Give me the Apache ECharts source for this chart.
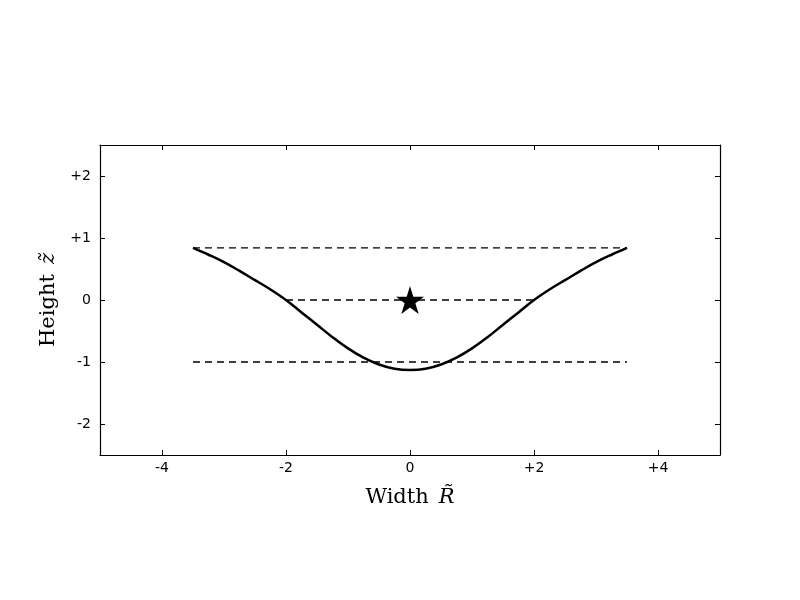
<!DOCTYPE html>
<html><head><meta charset="utf-8">
<script src="https://cdn.jsdelivr.net/npm/echarts@6/dist/echarts.min.js"></script>
<style>html,body{margin:0;padding:0;background:#fff}#c{width:800px;height:600px}</style>
</head><body><div id="c"></div>
<script>
// Data
const curveX = [-3.5,-3.25,-3.0,-2.75,-2.5,-2.25,-2.0,-1.75,-1.5,-1.25,-1.0,-0.75,-0.5,-0.25,0,0.25,0.5,0.75,1.0,1.25,1.5,1.75,2.0,2.25,2.5,2.75,3.0,3.25,3.5];
const curveZ = [0.84,0.73,0.61,0.47,0.32,0.17,0.0,-0.20,-0.40,-0.60,-0.78,-0.93,-1.04,-1.11,-1.13,-1.11,-1.04,-0.93,-0.78,-0.60,-0.40,-0.20,0.0,0.17,0.32,0.47,0.61,0.73,0.84];
const dashTop = [[-3.5,0.84],[3.5,0.84]];
const dashMid = [[-2.0,0.0],[2.0,0.0]];
const dashBot = [[-3.5,-1.0],[3.5,-1.0]];
const starPoint = [[0,0]];
const xTicks = [-4,-2,0,2,4];
const yTicks = [-2,-1,0,1,2];

const fmt = v => v > 0 ? '+' + v : String(v);
const starPath = 'path://M50,0 L61.8,36.2 L100,36.2 L69.1,58.8 L80.9,95.1 L50,72.7 L19.1,95.1 L30.9,58.8 L0,36.2 L38.2,36.2 Z';

const chart = echarts.init(document.getElementById('c'), null, {renderer:'canvas'});
const lab = {color:'#000', fontFamily:'DejaVu Sans', fontSize:14};
const tick = vals => ({show:true, inside:true, length:5, customValues:vals, lineStyle:{color:'#000', width:1}});
const lineAx = {show:true, onZero:false, lineStyle:{color:'#000', width:1.2}};
const nameRich = {rich:{n:{fontFamily:'DejaVu Serif', fontSize:21, color:'#000'}, i:{fontFamily:'DejaVu Serif', fontStyle:'italic', fontSize:21, color:'#000'}}};
const dash = {color:'#000', width:1.3, type:[7,5]};
chart.setOption({
  backgroundColor:'#fff',
  animation:false,
  grid:{left:100, top:145, width:620, height:310},
  xAxis:[{
    type:'value', min:-5, max:5, interval:1, position:'bottom',
    axisLine:lineAx, axisTick:tick(xTicks), splitLine:{show:false},
    axisLabel:{...lab, margin:6, customValues:xTicks, formatter:fmt},
    name:'{n|Width}   {i|R\u0303}', nameLocation:'middle', nameGap:32,
    nameTextStyle:nameRich
  },{
    type:'value', min:-5, max:5, interval:1, position:'top',
    axisLine:lineAx, axisTick:tick(xTicks), splitLine:{show:false}, axisLabel:{show:false}
  }],
  yAxis:[{
    type:'value', min:-2.5, max:2.5, interval:0.5, position:'left',
    axisLine:lineAx, axisTick:tick(yTicks), splitLine:{show:false},
    axisLabel:{...lab, margin:9, customValues:yTicks, formatter:fmt},
    name:'{n|Height}   {i|z\u0303}', nameLocation:'middle', nameGap:38, nameRotate:90,
    nameTextStyle:nameRich
  },{
    type:'value', min:-2.5, max:2.5, interval:0.5, position:'right',
    axisLine:lineAx, axisTick:tick(yTicks), splitLine:{show:false}, axisLabel:{show:false}
  }],
  series:[
    {type:'line', data:dashTop, symbol:'none', lineStyle:dash, z:2},
    {type:'line', data:dashMid, symbol:'none', lineStyle:dash, z:2},
    {type:'line', data:dashBot, symbol:'none', lineStyle:dash, z:2},
    {type:'line', data:curveX.map((x,i)=>[x,curveZ[i]]), symbol:'none', smooth:0.4, lineStyle:{color:'#000', width:2.5}, z:3},
    {type:'scatter', data:starPoint, symbol:starPath, symbolSize:28, itemStyle:{color:'#000', opacity:1}, z:4}
  ]
});
</script></body></html>
